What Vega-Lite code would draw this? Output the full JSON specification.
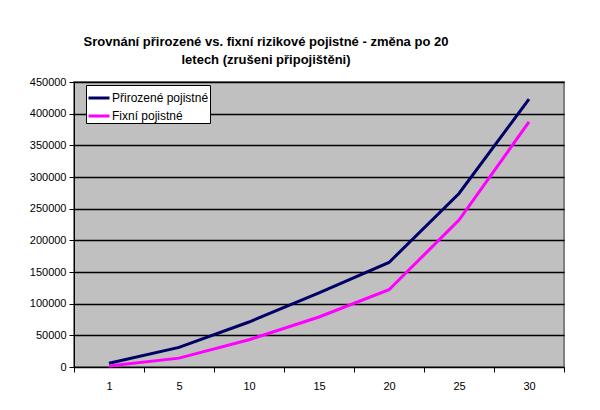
{
  "$schema": "https://vega.github.io/schema/vega-lite/v6.json",
  "width": 490,
  "height": 285,
  "autosize": "none",
  "padding": {"left": 74, "top": 82, "right": 36, "bottom": 43},
  "background": "white",
  "title": {
    "text": ["Srovnání přirozené vs. fixní rizikové pojistné - změna po 20", "letech (zrušeni připojištěni)"],
    "font": "Liberation Sans",
    "fontSize": 13,
    "fontWeight": "bold",
    "color": "#000000",
    "anchor": "middle",
    "dx": -53,
    "offset": 9,
    "lineHeight": 18
  },
  "data": {
    "values": [
      {"rok": "1", "serie": "Přirozené pojistné", "hodnota": 6000},
      {"rok": "5", "serie": "Přirozené pojistné", "hodnota": 31000},
      {"rok": "10", "serie": "Přirozené pojistné", "hodnota": 71000},
      {"rok": "15", "serie": "Přirozené pojistné", "hodnota": 117000},
      {"rok": "20", "serie": "Přirozené pojistné", "hodnota": 165000},
      {"rok": "25", "serie": "Přirozené pojistné", "hodnota": 274000},
      {"rok": "30", "serie": "Přirozené pojistné", "hodnota": 423000},
      {"rok": "1", "serie": "Fixní pojistné", "hodnota": 1500},
      {"rok": "5", "serie": "Fixní pojistné", "hodnota": 14000},
      {"rok": "10", "serie": "Fixní pojistné", "hodnota": 43000},
      {"rok": "15", "serie": "Fixní pojistné", "hodnota": 79000},
      {"rok": "20", "serie": "Fixní pojistné", "hodnota": 122000},
      {"rok": "25", "serie": "Fixní pojistné", "hodnota": 232000},
      {"rok": "30", "serie": "Fixní pojistné", "hodnota": 387000}
    ]
  },
  "mark": {"type": "line", "strokeWidth": 3},
  "encoding": {
    "x": {
      "field": "rok",
      "type": "ordinal",
      "sort": ["1", "5", "10", "15", "20", "25", "30"],
      "scale": {"paddingInner": 0, "paddingOuter": 0},
      "axis": {
        "title": null,
        "labelAngle": 0,
        "tickBand": "extent",
        "tickSize": 5,
        "tickColor": "#000000",
        "domainColor": "#000000",
        "labelFont": "Liberation Sans",
        "labelFontSize": 11,
        "labelColor": "#000000",
        "labelPadding": 8,
        "grid": false
      }
    },
    "y": {
      "field": "hodnota",
      "type": "quantitative",
      "scale": {"domain": [0, 450000], "nice": false},
      "axis": {
        "title": null,
        "values": [0, 50000, 100000, 150000, 200000, 250000, 300000, 350000, 400000, 450000],
        "format": "d",
        "tickSize": 5,
        "tickColor": "#000000",
        "domainColor": "#000000",
        "labelFont": "Liberation Sans",
        "labelFontSize": 11,
        "labelColor": "#000000",
        "labelPadding": 3,
        "grid": true,
        "gridColor": "#000000",
        "gridWidth": 1.5,
        "gridOpacity": 1
      }
    },
    "color": {
      "field": "serie",
      "type": "nominal",
      "scale": {"domain": ["Přirozené pojistné", "Fixní pojistné"], "range": ["#000066", "#FF00FF"]},
      "legend": {
        "title": null,
        "orient": "none",
        "legendX": 12,
        "legendY": 3,
        "fillColor": "white",
        "strokeColor": "#000000",
        "padding": 1,
        "symbolType": "stroke",
        "symbolSize": 441,
        "symbolStrokeWidth": 3,
        "labelFont": "Liberation Sans",
        "labelFontSize": 12,
        "labelColor": "#000000",
        "labelOffset": 1,
        "rowPadding": -1
      }
    }
  },
  "config": {
    "view": {"fill": "#C0C0C0", "stroke": "#808080", "strokeWidth": 2}
  }
}
